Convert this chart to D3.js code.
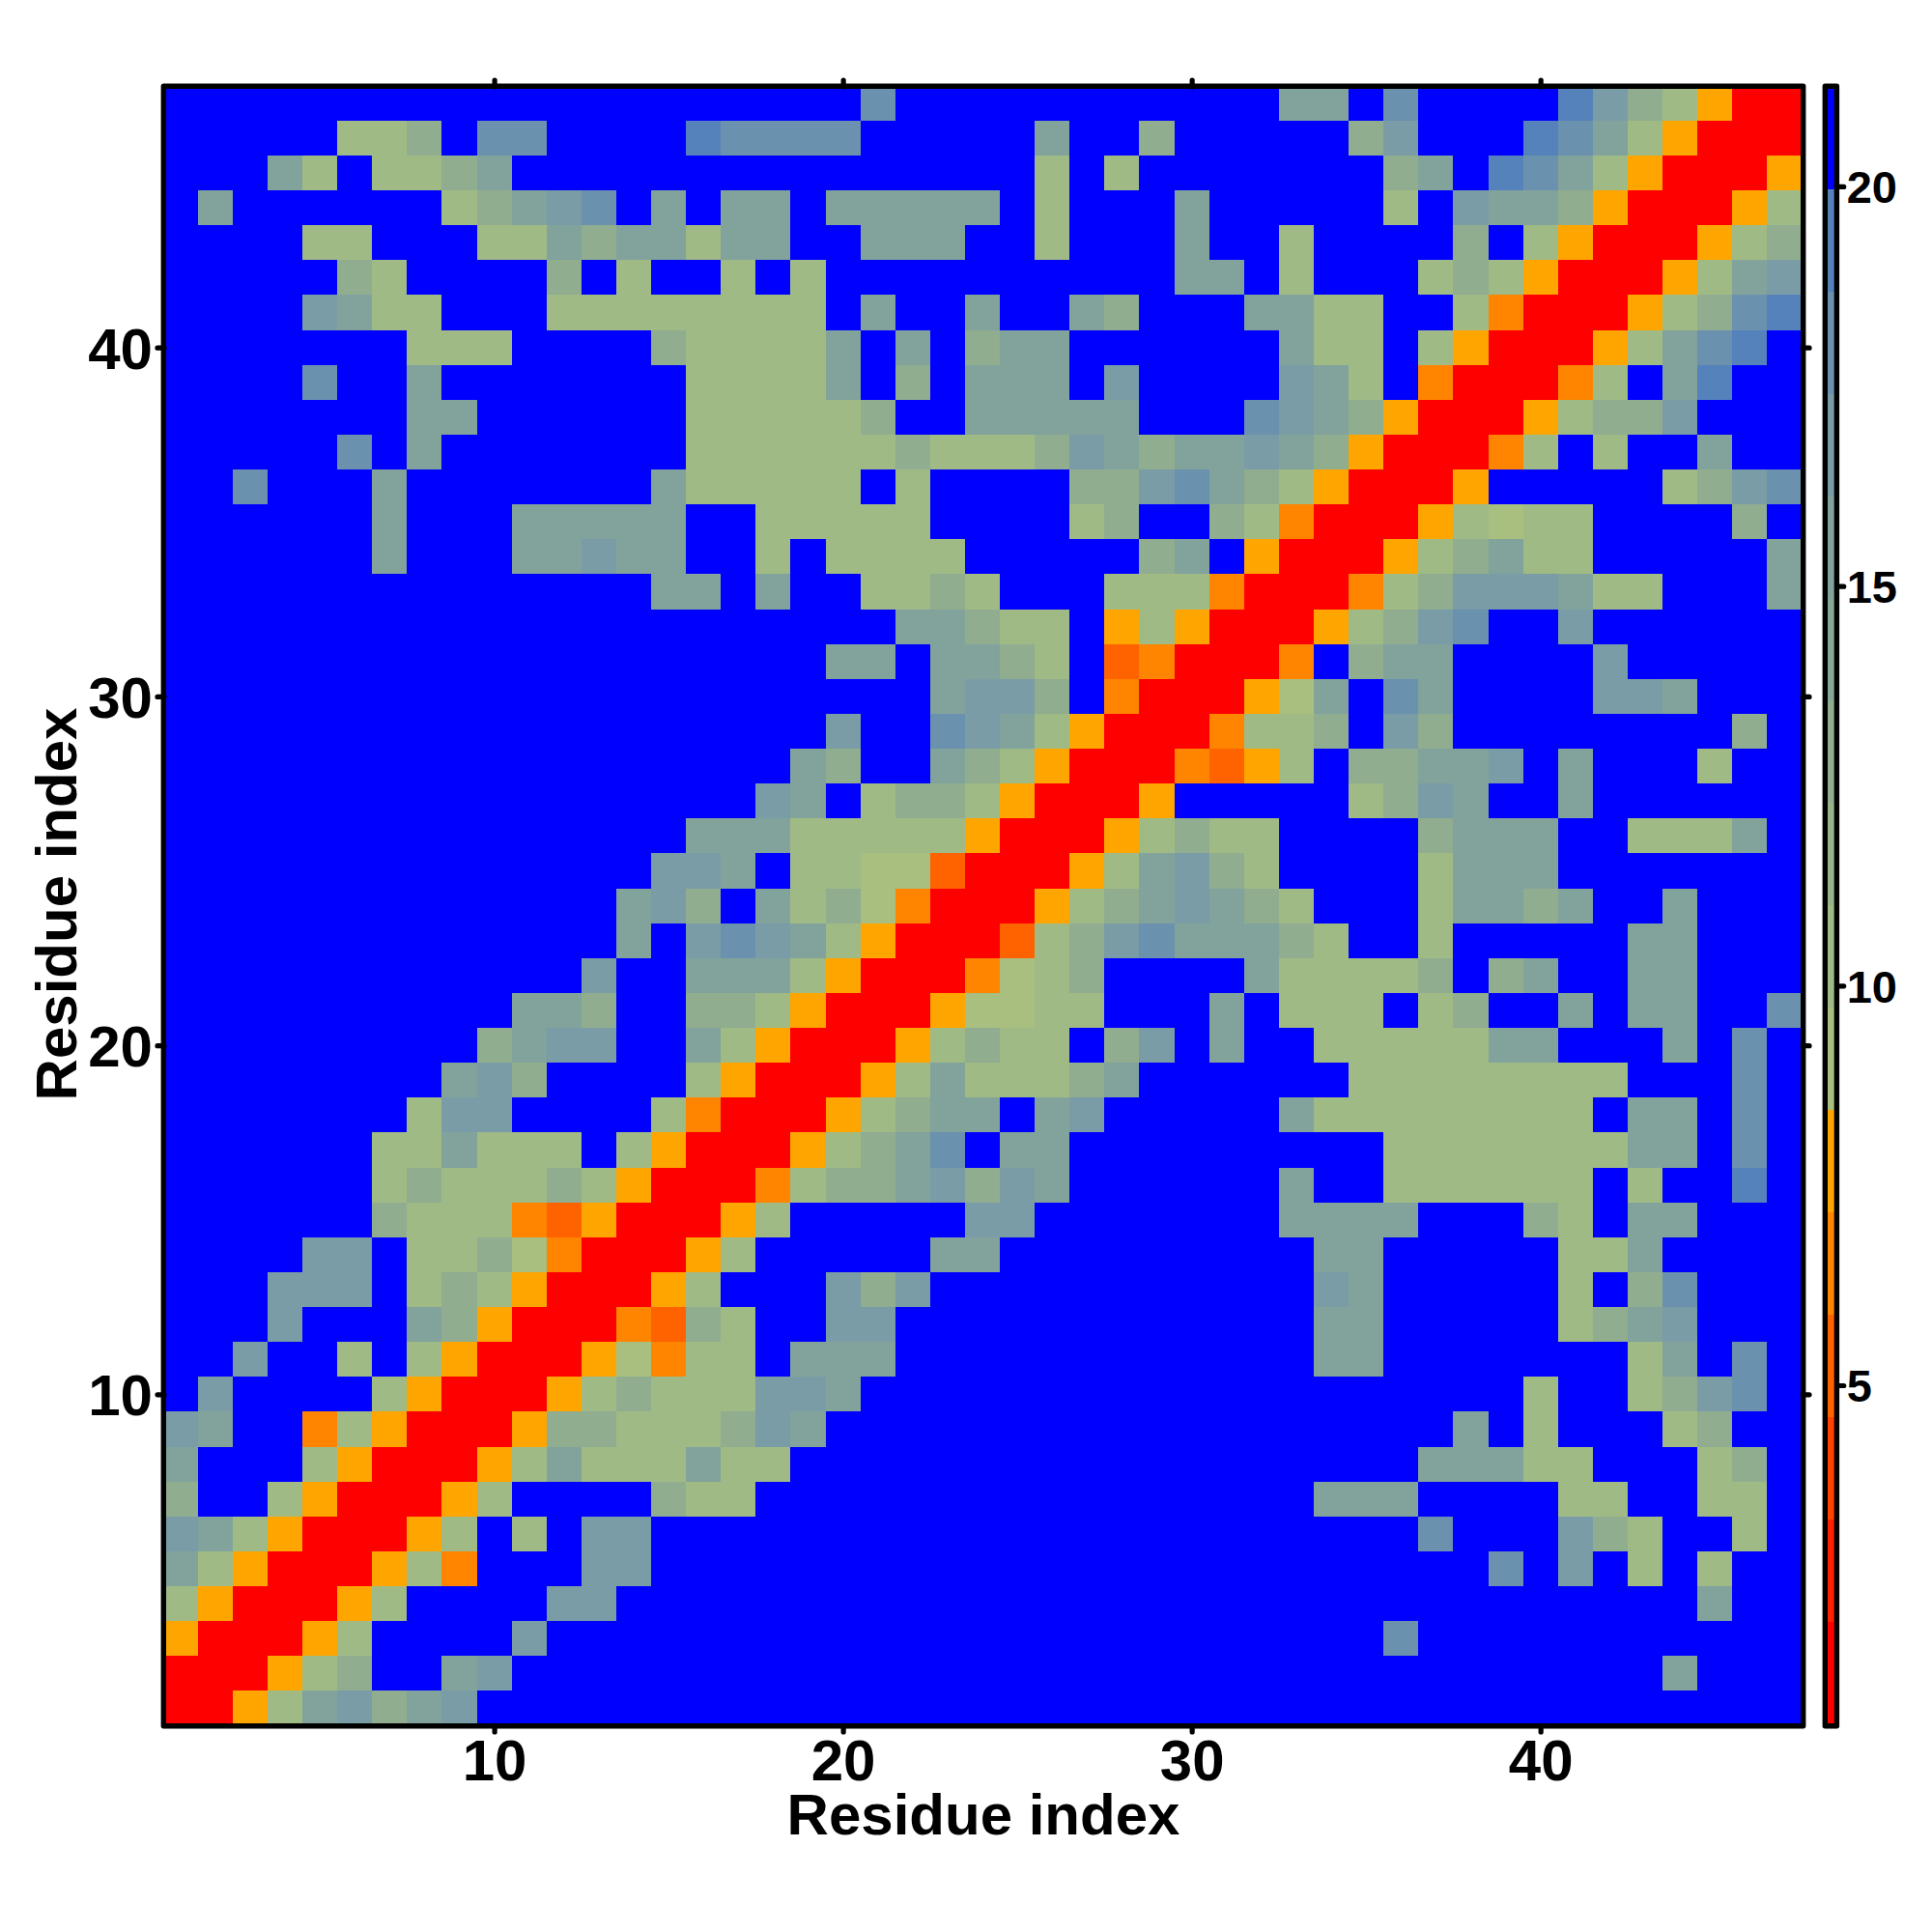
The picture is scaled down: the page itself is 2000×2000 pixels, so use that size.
<!DOCTYPE html>
<html>
<head>
<meta charset="utf-8">
<script src="https://cdnjs.cloudflare.com/ajax/libs/d3/7.8.5/d3.min.js"></script>
<style>
html,body{margin:0;padding:0;background:#fff}
svg{display:block}
text{font-family:"Liberation Sans",Arial,Helvetica,sans-serif;font-weight:bold;fill:#000}
</style>
</head>
<body>
<svg id="c" width="2000" height="2000"></svg>
<script>
// Matrix rows from residue 47 (top) down to residue 1; columns are residues 1..47.
const rowsTopDown = [
".......... .......... e......... ..cc.e.... fdbaorr",
".....aab.e e....feeee .....c..b. ....bd...f ecaorrr",
"...ca.aabc .......... .....a.a.. .....bc.fe caorrro",
".c......ab cde.c.cc.c cccc.a...c .....a.dcc borrroa",
"....aa...a acbccacc.. ccc..a...c ..a....b.a orrroab",
".....ba... .b.a..a.a. .........c c.a...abao rrroacd",
"....dcaa.. .aaaaaaaa. c..c..cb.. .ccaa..anr rroabef",
".......aaa ....baaaac .c.bcc.... ..caa.aorr roacef.",
"....e..c.. .....aaaac .b.ccc.d.. ..dca.nrrr na.cf..",
".......cc. .....aaaaa b..ccccc.. .edcborrro abbd...",
".....e.c.. .....aaaaa abaaabdcbc cdcborrrna .a..c..",
"..e...c... ....caaaaa .a....bbde cbaorrro.. ...abde",
"......c... ccccc..aaa aa....ab.. banrrroaAa a....b.",
"......c... ccdcc..a.a aaa.....bc .orrroabca a.....c",
".......... ....cc.c.. aaba...aaa nrrrnabddd caa...c",
".......... .......... .ccbaa.oao rrroabde.. d......",
".......... .........c c.ccba.xnr rrn.bcc... .d.....",
".......... .......... ..cddb.nrr roAc.ec... .ddc...",
".......... .........d ..edcaorrr naab.db... .....b.",
".......... ........cb ..cbaorrrn xoa.bbccd. c...a..",
".......... .......dc. abbaorrro. ....abdc.. c......",
".......... .....cccaa aaaorrroab aa....bccc ..aaac.",
".......... ....ddc.aa AAxrrroacd ba....accc .......",
".......... ...cdb.cab Anrrroabcd cba...accb c..c...",
".......... ...c.dedca orrrxabdec ccba..a... ..cc...",
".......... ..d..cccao rrrnAab... .caaaab.bc ..cc...",
".......... ccb..bbaor rroAAaa... c.aaa.ab.. c.cc..e",
".........b cdd..caorr roabaa.bd. c..aaaaacc ...c.e.",
"........cd b....aorrr oacaaabc.. ....aaaaaa aa...e.",
".......add ....anrrro abcc.cd... ..caaaaaaa a.cc.e.",
"......aaca aa.aorrroa bce.cc.... .....aaaaa aacc.e.",
"......abaa abaorrrnab bcdbdc.... ..c..aaaaa a.a..f.",
"......baaa nxorrroa.. ...dd..... ..cccc...b a.cc...",
"....dd.aab Anrrroa... ..cc...... ...cc..... aac....",
"...ddd.aba orrroa...d bd........ ...dc..... a.be...",
"...d...cbo rrrnxba..d d......... ...cc..... abcd...",
"..d..a.aor rroAnaa.cc c......... ...cc..... ..ac.e.",
".d....aorr roabaaaddc .......... .........a ..abde.",
"dc..naorrr obbaaabdc. .......... .......c.a ...ab..",
"c...aorrro acaaacaa.. .......... ......ccca a...ab.",
"b..aorrroa ....baa... .......... ...ccc.... aa..aa.",
"dcaorrroa. a.dd...... .......... ......e... dba..a.",
"caorrroan. ..dd...... .......... ........e. d.a.a..",
"aorrroa... .dd....... .......... .......... ....c..",
"orrroa.... d......... .......... .....e.... .......",
"rrroab..cd .......... .......... .......... ...c...",
"rroacdbcd. .......... .......... .......... ......."
];
const levelKeys   = ["r","x","n","o","A","a","b","c","d","e","f","."];
const levelValues = [1.5,5.2,6.5,7.8,9.1,10.4,12.9,15.5,16.8,18.0,19.3,20.6];

const colourBreaks = [2.05,3.33,4.61,5.89,7.17,8.45,9.73,11.01,12.29,13.57,14.85,16.13,17.41,18.69,19.97];
const colourRange  = ["#ff0000","#ff2100","#ff4200","#ff6300","#ff8400","#ffa500",
  "#a8bf80","#a0ba85","#98b38a","#90ad90","#88a896","#81a39c","#7a9ca6","#6a92ae","#5582ba","#0000ff"];
const barMin = 0.77, barMax = 21.22;

const axisTicks = [10,20,30,40];
const barTicks  = [5,10,15,20];
const axisTitle = "Residue index";

const valueOf = new Map(levelKeys.map((k,i)=>[k,levelValues[i]]));
const nRes = 47;
const cells = [];
rowsTopDown.forEach((s,ri)=>{
  const row = s.replace(/ /g,"");
  Array.from(row).forEach((ch,ci)=>cells.push({x:ci+1,y:nRes-ri,v:valueOf.get(ch)}));
});

const svg = d3.select("#c");
const L=172,R=1864,T=92,B=1784;
const x = d3.scaleLinear().domain([0.5934,47.46]).range([L,R]);
const y = d3.scaleLinear().domain([0.57,47.41]).range([B,T]);
const colour = d3.scaleThreshold().domain(colourBreaks).range(colourRange);

svg.append("defs").append("clipPath").attr("id","plot")
  .append("rect").attr("x",L).attr("y",T).attr("width",R-L).attr("height",B-T);

svg.append("g").attr("clip-path","url(#plot)").attr("shape-rendering","crispEdges")
  .selectAll("rect").data(cells).join("rect")
  .attr("x",d=>x(d.x-.5)).attr("y",d=>y(d.y+.5))
  .attr("width",d=>x(d.x+.5)-x(d.x-.5)+.5).attr("height",d=>y(d.y-.5)-y(d.y+.5)+.5)
  .attr("fill",d=>colour(d.v));

function styleAxis(g){
  g.select(".domain").remove();
  g.selectAll(".tick line").attr("stroke","#000").attr("stroke-width",5.2).attr("stroke-linecap","round");
}
const tickLen=7, tickFs=60;
svg.append("g").attr("transform",`translate(0,${B+2})`)
  .call(d3.axisBottom(x).tickValues(axisTicks).tickSize(tickLen).tickPadding(0))
  .call(styleAxis)
  .call(g=>g.selectAll("text").attr("font-size",tickFs).attr("y",0).attr("dy",null)
    .attr("transform","translate(0,57)"));
svg.append("g").attr("transform",`translate(0,${T-2})`)
  .call(d3.axisTop(x).tickValues(axisTicks).tickSize(tickLen).tickFormat(""))
  .call(styleAxis);
svg.append("g").attr("transform",`translate(${L-2},0)`)
  .call(d3.axisLeft(y).tickValues(axisTicks).tickSize(tickLen).tickPadding(5))
  .call(styleAxis)
  .call(g=>g.selectAll("text").attr("font-size",tickFs).attr("dy","0.36em"));
svg.append("g").attr("transform",`translate(${R+2},0)`)
  .call(d3.axisRight(y).tickValues(axisTicks).tickSize(tickLen).tickFormat(""))
  .call(styleAxis);

svg.append("rect").attr("x",L-2.7).attr("y",T-2.7).attr("width",R-L+5.4).attr("height",B-T+5.4)
  .attr("fill","none").attr("stroke","#000").attr("stroke-width",5.4).attr("stroke-linejoin","round");

svg.append("text").attr("x",1018).attr("y",1899).attr("text-anchor","middle").attr("font-size",60).text(axisTitle);
svg.append("text").attr("transform","translate(79,936) rotate(-90)").attr("text-anchor","middle").attr("font-size",60).text(axisTitle);

// Colour bar
const barL=1892, barR=1898.7;
const yb = d3.scaleLinear().domain([barMin,barMax]).range([B,T]);
const edges = [barMin,...colourBreaks,barMax];
const bins = d3.pairs(edges).map(([lo,hi])=>({lo,hi}));
svg.append("g").attr("shape-rendering","crispEdges").selectAll("rect").data(bins).join("rect")
  .attr("x",barL).attr("width",barR-barL)
  .attr("y",d=>yb(d.hi)).attr("height",d=>yb(d.lo)-yb(d.hi)+.5)
  .attr("fill",d=>colour((d.lo+d.hi)/2));
svg.append("g").attr("transform",`translate(${barR+5},0)`)
  .call(d3.axisRight(yb).tickValues(barTicks).tickSize(5).tickPadding(3))
  .call(styleAxis)
  .call(g=>g.selectAll("text").attr("font-size",47).attr("dy","0.36em"));
svg.append("rect").attr("x",barL-2.7).attr("y",T-2.7).attr("width",barR-barL+5.4).attr("height",B-T+5.4)
  .attr("fill","none").attr("stroke","#000").attr("stroke-width",5.4).attr("stroke-linejoin","round");
</script>
</body>
</html>
